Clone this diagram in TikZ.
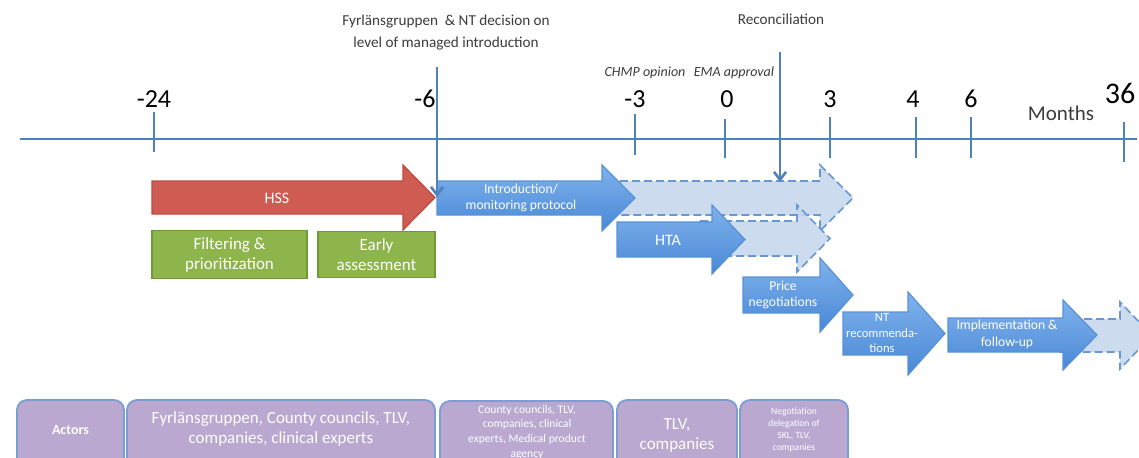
\documentclass[tikz,border=0pt]{standalone}
\usepackage{fontspec}
\setmainfont{Carlito}
\usetikzlibrary{arrows.meta}

\definecolor{axisblue}{RGB}{79,129,189}
\definecolor{hssred}{RGB}{207,92,82}
\definecolor{hssredline}{RGB}{188,74,66}
\definecolor{stepblueTop}{RGB}{128,178,236}
\definecolor{stepblueBot}{RGB}{72,136,214}
\definecolor{stepblueLine}{RGB}{88,146,214}
\definecolor{ghostfill}{RGB}{196,214,236}
\definecolor{ghostline}{RGB}{104,152,210}
\definecolor{boxgreen}{RGB}{142,180,76}
\definecolor{boxgreenline}{RGB}{112,152,56}
\definecolor{actorfill}{RGB}{186,168,209}
\definecolor{actorline}{RGB}{122,158,212}
\definecolor{labelgray}{RGB}{60,60,60}

% Block arrow: #1 style, #2 left x, #3 head start x, #4 tip x,
% #5 body top y, #6 body bottom y, #7 head overhang
\newcommand{\blockarrow}[7]{%
  \path[#1] (#2,#5) -- (#3,#5) -- (#3,{#5-#7}) -- (#4,{(#5+#6)/2})
    -- (#3,{#6+#7}) -- (#3,#6) -- (#2,#6) -- cycle;}

% Tick mark on the axis: #1 x, #2 top y, #3 bottom y
\newcommand{\axistick}[3]{\draw[tick] (#1,#2) -- (#1,#3);}

\tikzset{
  redarrow/.style={fill=hssred,draw=hssredline,line width=0.6pt},
  bluearrow/.style={top color=stepblueTop,bottom color=stepblueBot,
    draw=stepblueLine,line width=0.6pt},
  ghostarrow/.style={fill=ghostfill,fill opacity=0.85,draw=ghostline,
    dashed,dash pattern=on 4pt off 2pt,line width=0.8pt},
  steplabel/.style={text=white,align=center,font=\fontsize{8}{9}\selectfont},
  greenbox/.style={fill=boxgreen,draw=boxgreenline,line width=0.8pt},
  actorbox/.style={fill=actorfill,draw=actorline,line width=0.9pt,
    rounded corners=5pt},
  actortext/.style={text=white,align=center},
  tick/.style={axisblue,line width=1.4pt},
  ticklabel/.style={font=\fontsize{13}{14}\selectfont,text=black},
  smalllabel/.style={text=labelgray,align=center},
  marker/.style={axisblue,line width=1.3pt,-{Straight Barb[length=4pt,width=6pt]}}
}

\begin{document}
\begin{tikzpicture}[x=0.5pt,y=-0.5pt]
\useasboundingbox (0,0) rectangle (1139,457);
\clip (0,0) rectangle (1139,457);
\fill[white] (0,0) rectangle (1139,457);

% time axis
\draw[tick] (20,139) -- (1137,139);
\axistick{154}{112}{152}
\axistick{635}{114}{155}
\axistick{725}{119}{158}
\axistick{830}{117}{158}
\axistick{916}{117}{158}
\axistick{971}{117}{158}
\axistick{1124}{122}{162}

\node[ticklabel] (l24) at (154,99) {-24};
\node[ticklabel] (l6m) at (425,99) {-6};
\node[ticklabel] (l3m) at (635,99) {-3};
\node[ticklabel] (l0) at (727,99) {0};
\node[ticklabel] (l3) at (830,99) {3};
\node[ticklabel] (l4) at (913,99) {4};
\node[ticklabel] (l6) at (971,99) {6};
\node[ticklabel,font=\fontsize{15}{16}\selectfont] (l36) at (1120,93) {36};
\node[font=\fontsize{10.5}{12}\selectfont,text=labelgray] (months) at (1061,113) {Months};

\node[smalllabel,font=\fontsize{7}{8}\itshape] (chmp) at (645,73) {CHMP opinion};
\node[smalllabel,font=\fontsize{7}{8}\itshape] (ema) at (734,73) {EMA approval};

% decision markers
\node[smalllabel,font=\fontsize{7.6}{11}\selectfont] (decision) at (446,33)
  {Fyrlänsgruppen \ \& NT decision on\\level of managed introduction};
\node[smalllabel,font=\fontsize{7.6}{9}\selectfont] (recon) at (781,19) {Reconciliation};
\coordinate (decTop) at (437,67);
\coordinate (decEnd) at (437,197);
\coordinate (recTop) at (780,52);
\coordinate (recEnd) at (780,182);

% ghost (dashed) continuations
\blockarrow{ghostarrow}{620}{820}{853}{181}{215}{16}
\blockarrow{ghostarrow}{700}{797}{830}{221}{256}{16}

% process arrows
\blockarrow{redarrow}{152}{403}{435}{181}{214}{16}
\node[steplabel] (hss) at (277,198) {HSS};

\blockarrow{bluearrow}{437}{602}{635}{181}{215}{16}
\node[steplabel,font=\fontsize{6.8}{8.4}\selectfont] (intro) at (521,198)
  {Introduction/\\monitoring protocol};

\blockarrow{bluearrow}{617}{712}{745}{222}{257}{17}
\node[steplabel] (hta) at (668,240) {HTA};

\blockarrow{bluearrow}{743}{820}{853}{277}{313}{19}
\node[steplabel,font=\fontsize{6.8}{8.4}\selectfont] (price) at (783,295)
  {Price\\negotiations};

\blockarrow{ghostarrow}{1060}{1120}{1152}{319}{352}{17}
\blockarrow{bluearrow}{843}{908}{945}{312}{355}{20}
\node[steplabel,font=\fontsize{6.3}{7.6}\selectfont] (nt) at (882,333)
  {NT\\recommenda-\\tions};

\blockarrow{bluearrow}{948}{1063}{1097}{318}{352}{18}
\node[steplabel,font=\fontsize{6.8}{8.4}\selectfont] (impl) at (1007,334)
  {Implementation \&\\follow-up};

\draw[marker] (decTop) -- (decEnd);
\draw[marker] (recTop) -- (recEnd);

% early activities
\node[greenbox,minimum width=77.5pt,minimum height=23pt,text=white,align=center,
  font=\fontsize{8.5}{10}\selectfont] (filter) at (229.5,254.5) {Filtering \&\\prioritization};
\node[greenbox,minimum width=58.5pt,minimum height=23pt,text=white,align=center,
  font=\fontsize{8.5}{10}\selectfont] (early) at (376.5,254.5) {Early\\assessment};

% actors row
\draw[actorbox] (17,400) rectangle (124,475);
\node[actortext,font=\fontsize{7}{8}\bfseries] (actors) at (70.5,430) {Actors};
\draw[actorbox] (127,400) rectangle (435,475);
\node[actortext,font=\fontsize{8.5}{10}\selectfont] (a1) at (281,429)
  {Fyrlänsgruppen, County councils, TLV,\\companies, clinical experts};
\draw[actorbox] (440,401) rectangle (613,475);
\node[actortext,font=\fontsize{5.8}{7.4}\selectfont,anchor=north] (a2) at (527,398)
  {County councils, TLV,\\companies, clinical\\experts, Medical product\\agency};
\draw[actorbox] (617,400) rectangle (737,475);
\node[actortext,font=\fontsize{8.5}{10}\selectfont] (a3) at (677,435) {TLV,\\companies};
\draw[actorbox] (740,400) rectangle (848,475);
\node[actortext,font=\fontsize{4.8}{6}\selectfont,anchor=north] (a4) at (794,401)
  {Negotiation\\delegation of\\SKL, TLV,\\companies};
\end{tikzpicture}
\end{document}
